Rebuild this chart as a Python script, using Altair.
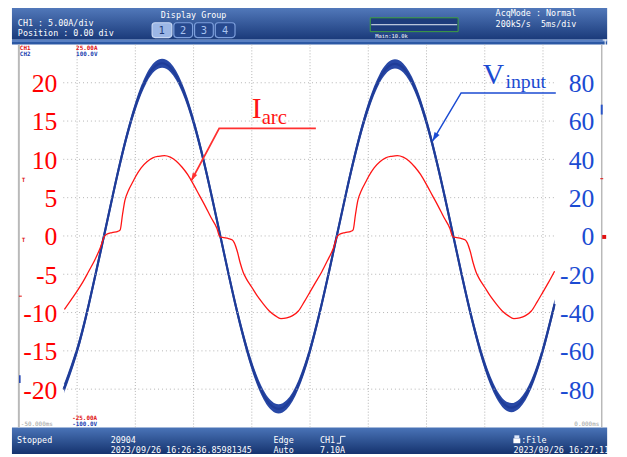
import altair as alt
import pandas as pd

# ---------------- data ----------------
# CH2 : input voltage (V), time in ms (screen spans -50 ms .. 0 ms)
volt_t = [-46.1, -46, -45, -44, -43, -42, -41, -40, -39, -38, -37, -36, -35, -34, -33,
          -32, -31, -30, -29, -28, -27, -26, -25, -24, -23, -22, -21, -20, -19, -18,
          -17, -16, -15, -14, -13, -12, -11, -10, -9, -8, -7, -6, -5, -4]
volt_v = [-78.9, -77.6, -59.7, -35.9, -8.6, 19.4, 45.9, 67.6, 82.8, 89.8, 88.0, 77.6, 59.6, 35.8, 8.4,
          -19.8, -46.0, -67.7, -82.9, -89.9, -88.1, -77.7, -59.6, -35.6, -8.3, 19.7, 45.9, 67.4, 82.5, 89.5,
          87.7, 77.4, 59.4, 35.6, 8.4, -19.7, -45.9, -67.5, -82.4, -89.3, -87.5, -77.3, -59.3, -35.5]

# CH1 : arc current (A)
amp_t = [-46.1, -45.5, -45.0, -44.5, -44.0, -43.5, -43.0, -42.7, -42.5, -42.0, -41.5, -41.3, -41.1, -40.9,
         -40.6, -40.2, -40.0, -39.5, -39.0, -38.5, -38.0, -37.5, -37.0, -36.5, -36.0, -35.5, -35.0, -34.5,
         -34.0, -33.5, -33.0, -32.75, -32.5, -32.0, -31.7, -31.5, -31.25, -31.0, -30.75, -30.5, -30.0, -29.5,
         -29.0, -28.5, -28.0, -27.5, -27.0, -26.5,
         -26.0, -25.5, -25.0, -24.5, -24.0, -23.5, -23.0, -22.7, -22.5, -22.0, -21.5, -21.3, -21.1, -20.9,
         -20.6, -20.2, -20.0, -19.5, -19.0, -18.5, -18.0, -17.5, -17.0, -16.5, -16.0, -15.5, -15.0, -14.5,
         -14.0, -13.5, -13.0, -12.75, -12.5, -12.0, -11.7, -11.5, -11.25, -11.0, -10.75, -10.5, -10.0, -9.5,
         -9.0, -8.5, -8.0, -7.5, -7.0, -6.5, -6.0, -5.5, -5.0, -4.5, -4.0]
amp_i = [-9.6, -8.3, -7.2, -6.0, -4.6, -3.2, -1.5, -0.2, 0.2, 0.45, 0.6, 0.8, 2.8, 4.6,
         5.9, 7.1, 7.7, 8.9, 9.7, 10.2, 10.4, 10.5, 10.3, 9.8, 9.0, 8.0, 6.7, 5.3,
         3.9, 2.4, 1.0, -0.1, -0.2, -0.35, -0.5, -0.9, -2.0, -3.5, -4.7, -5.5, -6.7, -7.9,
         -8.9, -9.8, -10.4, -10.8, -10.7, -10.4,
         -9.8, -8.6, -7.3, -6.0, -4.7, -3.2, -1.6, -0.2, 0.2, 0.45, 0.6, 0.8, 2.8, 4.6,
         5.9, 7.1, 7.7, 8.9, 9.7, 10.2, 10.4, 10.5, 10.3, 9.8, 9.0, 8.0, 6.7, 5.3,
         3.9, 2.4, 1.0, -0.1, -0.2, -0.35, -0.5, -0.9, -2.0, -3.5, -4.7, -5.5, -6.7, -7.9,
         -8.9, -9.8, -10.4, -10.8, -10.7, -10.4, -9.8, -8.6, -7.3, -6.0, -4.6]

amp_ticks = [-20, -15, -10, -5, 0, 5, 10, 15, 20]
volt_ticks = [-80, -60, -40, -20, 0, 20, 40, 60, 80]
time_grid = [-45, -40, -35, -30, -25, -20, -15, -10, -5]

# annotation leaders (tip, elbow, end) in data units
iarc_t = [-35.2, -32.8, -24.5]
iarc_i = [7.2, 14.05, 14.05]
vin_t = [-14.49, -12.03, -3.9]
vin_v = [49.5, 74.7, 74.7]

# ---------------- layout ----------------
W, H = 590, 388          # plot area (10 x 10 divisions)
PX0, PY0 = 19, 42        # page position of plot origin
RED = "#ff1414"
BLUE_TXT = "#1b4bd2"
BLUE_TRACE = "#2848a6"

xs = alt.Scale(domain=[-50, 0], nice=False, zero=False)
ys_a = alt.Scale(domain=[-25, 25], nice=False, zero=False)
ys_v = alt.Scale(domain=[-100, 100], nice=False, zero=False)
one = pd.DataFrame({"k": [0]})


def P(x):
    return x - PX0


def Q(y):
    return y - PY0


def rect(x1, y1, x2, y2, **kw):
    return alt.Chart(one).mark_rect(**kw).encode(
        x=alt.value(P(x1)), x2=alt.value(P(x2)), y=alt.value(Q(y1)), y2=alt.value(Q(y2)))


def rule(x1, y1, x2, y2, **kw):
    return alt.Chart(one).mark_rule(**kw).encode(
        x=alt.value(P(x1)), x2=alt.value(P(x2)), y=alt.value(Q(y1)), y2=alt.value(Q(y2)))


def txt(s, x, y, color="white", size=8.5, font="DejaVu Sans Mono", align="left",
        baseline="alphabetic", weight="normal"):
    return alt.Chart(one).mark_text(text=s, color=color, fontSize=size, font=font, align=align,
                                    baseline=baseline, fontWeight=weight).encode(
        x=alt.value(P(x)), y=alt.value(Q(y)))


def grad(top, bottom):
    return alt.Gradient(gradient="linear",
                        stops=[alt.GradientStop(color=top, offset=0),
                               alt.GradientStop(color=bottom, offset=1)],
                        x1=0, x2=0, y1=0, y2=1)


# ---------------- frame: header / footer ----------------
frame = [
    rect(12, 0, 615, 37, fill=grad("#5a82c4", "#1a3a7a")),
    rect(12, 37, 615, 42, fill="#2c58a4"),
    rule(12, 38.5, 615, 38.5, color="#86a8e2", strokeWidth=1),
    rect(12, 430, 615, 457, fill=grad("#4a74b8", "#15336e")),
    rule(19, 42, 19, 430, color="#b9b9b9", strokeWidth=2),
    rule(609.5, 42, 609.5, 430, color="#b9b9b9", strokeWidth=1.5),
]

header = [
    txt("CH1      : 5.00A/div", 18, 23),
    txt("Position : 0.00 div", 18, 33),
    txt("Display Group", 196, 15, align="center"),
    txt("AcqMode : Normal", 502, 13),
    txt("200kS/s", 502, 24),
    txt("5ms/div", 548, 24),
    txt("Main:10.0k", 380, 35, size=5.5),
    rect(375, 15, 464, 29, fill="#1d3c7c", stroke="#3fa23f", strokeWidth=1),
    rule(376, 22, 463, 22, color="#e8eef8", strokeWidth=1),
    rule(613, 37, 613, 44, color="#ffffff", strokeWidth=1),
    rule(610.5, 37.5, 615.5, 37.5, color="#ffffff", strokeWidth=1),
]
btn_x = [(154, 174), (176, 195), (197, 216), (218, 238)]
for k, (a, b) in enumerate(btn_x):
    sel = k == 0
    header.append(rect(a, 20, b, 35, fill="#9cb7e6" if sel else "#27498e",
                       stroke="#c8d8f4" if sel else "#7d9fdc", strokeWidth=1.2, cornerRadius=3))
    header.append(txt(str(k + 1), (a + b) / 2, 31.5, color="#1d3a78" if sel else "#a9c4f0",
                      size=10, font="DejaVu Sans", align="center"))

footer = [
    txt("Stopped", 17, 446),
    txt("20904", 112, 446),
    txt("2023/09/26 16:26:36.85981345", 112, 456),
    txt("Edge", 277, 446),
    txt("Auto", 277, 456),
    txt("CH1", 324, 446),
    rule(341, 446, 345, 446, color="white", strokeWidth=1),
    rule(345, 446, 345, 439, color="white", strokeWidth=1),
    rule(345, 439, 350, 439, color="white", strokeWidth=1),
    txt("7.10A", 324, 456),
    rect(520, 441, 527, 446, fill="white"),
    rect(521, 438, 526, 441, fill="#dfe8f8"),
    txt(":File", 528, 446),
    txt("2023/09/26 16:27:11", 520, 456),
]

small = [
    txt("CH1", 20, 47.5, color="#e01010", size=6, weight="bold"),
    txt("CH2", 20, 53.5, color="#1c3fb0", size=6, weight="bold"),
    txt("25.00A", 77, 47.5, color="#e01010", size=6, weight="bold"),
    txt("100.0V", 77, 53.5, color="#1c3fb0", size=6, weight="bold"),
    txt("-25.00A", 73, 422.5, color="#e01010", size=6, weight="bold"),
    txt("-100.0V", 73, 428.5, color="#1c3fb0", size=6, weight="bold"),
    txt("-50.000ms", 21, 428.5, color="#9a9a9a", size=6),
    txt("0.000ms", 607, 428.5, color="#9a9a9a", size=6, align="right"),
    txt("T", 22, 181, color="#e01010", size=6, weight="bold"),
    txt("T", 22, 242, color="#e01010", size=6, weight="bold"),
    rule(19, 297, 22, 297, color="#e01010", strokeWidth=1),
    rule(20, 377, 20, 385, color="#1c3fb0", strokeWidth=1.5),
    rule(609.5, 103, 609.5, 113, color="#2a55c8", strokeWidth=2),
    rule(608, 178, 611, 178, color="#e01010", strokeWidth=1),
    rect(610, 235, 614, 239, fill="#e01010"),
]

# ---------------- grid ----------------
hgrid = alt.Chart(pd.DataFrame({"a": amp_ticks})).mark_rule(
    color="#b3b3b3", strokeDash=[1, 3], strokeWidth=1).encode(
    y=alt.Y("a:Q", scale=ys_a, axis=None), x=alt.value(P(64)), x2=alt.value(P(563)))
vgrid = alt.Chart(pd.DataFrame({"t": time_grid})).mark_rule(
    color="#b3b3b3", strokeDash=[1, 2], strokeWidth=1).encode(
    x=alt.X("t:Q", scale=xs, axis=None), y=alt.value(0), y2=alt.value(H))

# tick labels (placed through the scales, inside the screen like the original)
amp_lab = alt.Chart(pd.DataFrame({"a": amp_ticks, "s": [str(v) for v in amp_ticks]})).mark_text(
    align="right", baseline="middle", font="Liberation Serif", fontSize=26, color="#ff0000", dy=1.5).encode(
    y=alt.Y("a:Q", scale=ys_a, axis=None), x=alt.value(P(58)), text="s:N")
volt_lab = alt.Chart(pd.DataFrame({"v": volt_ticks, "s": [str(v) for v in volt_ticks]})).mark_text(
    align="right", baseline="middle", font="Liberation Serif", fontSize=26, color=BLUE_TXT, dy=1.5).encode(
    y=alt.Y("v:Q", scale=ys_v, axis=None), x=alt.value(P(602)), text="s:N")

# ---------------- traces ----------------
df_v = pd.DataFrame({"t": volt_t, "v": volt_v})
df_i = pd.DataFrame({"t": amp_t, "i": amp_i})

blue_band = alt.Chart(df_v).transform_calculate(
    lo="datum.v - 2.4", hi="datum.v + 2.4").mark_area(
    interpolate="natural", color=BLUE_TRACE, opacity=1).encode(
    x=alt.X("t:Q", scale=xs, axis=None),
    y=alt.Y("lo:Q", scale=ys_v, axis=None), y2="hi:Q")
blue_line = alt.Chart(df_v).mark_line(interpolate="natural", color="#1f3c98", strokeWidth=2.2).encode(
    x=alt.X("t:Q", scale=xs, axis=None), y=alt.Y("v:Q", scale=ys_v, axis=None))
vin_lead = alt.Chart(pd.DataFrame({"t": vin_t, "v": vin_v, "o": [0, 1, 2]})).mark_line(
    color=BLUE_TXT, strokeWidth=1.5).encode(
    x=alt.X("t:Q", scale=xs, axis=None), y=alt.Y("v:Q", scale=ys_v, axis=None), order="o:Q")
vin_head = alt.Chart(pd.DataFrame({"t": vin_t[:1], "v": vin_v[:1]})).mark_point(
    shape="M0,0L-0.45,1.4L0.45,1.4Z", filled=True, size=170, angle=210.6,
    color=BLUE_TXT, opacity=1, strokeWidth=0).encode(
    x=alt.X("t:Q", scale=xs, axis=None), y=alt.Y("v:Q", scale=ys_v, axis=None))

red_line = alt.Chart(df_i).mark_line(interpolate="monotone", color=RED, strokeWidth=1.3).encode(
    x=alt.X("t:Q", scale=xs, axis=None), y=alt.Y("i:Q", scale=ys_a, axis=None))
iarc_lead = alt.Chart(pd.DataFrame({"t": iarc_t, "i": iarc_i, "o": [0, 1, 2]})).mark_line(
    color="#ff3030", strokeWidth=1.8).encode(
    x=alt.X("t:Q", scale=xs, axis=None), y=alt.Y("i:Q", scale=ys_a, axis=None), order="o:Q")
iarc_head = alt.Chart(pd.DataFrame({"t": iarc_t[:1], "i": iarc_i[:1]})).mark_point(
    shape="M0,0L-0.45,1.4L0.45,1.4Z", filled=True, size=130, angle=208.2,
    color="#ff3030", opacity=1, strokeWidth=0).encode(
    x=alt.X("t:Q", scale=xs, axis=None), y=alt.Y("i:Q", scale=ys_a, axis=None))

labels = [
    txt("I", 255, 117, color=RED, size=30, font="Liberation Serif"),
    txt("arc", 265, 123, color=RED, size=21, font="Liberation Serif"),
    txt("V", 489, 82, color=BLUE_TXT, size=30, font="Liberation Serif"),
    txt("input", 512, 86, color=BLUE_TXT, size=20, font="Liberation Serif"),
]

blue_group = alt.layer(blue_band, blue_line, vin_lead, vin_head, volt_lab)
red_group = alt.layer(hgrid, red_line, iarc_lead, iarc_head, amp_lab)

chart = alt.layer(
    *frame, vgrid, blue_group, red_group, *labels, *header, *footer, *small
).resolve_scale(y="independent").properties(
    width=W, height=H,
    autosize=alt.AutoSizeParams(type="none"),
    padding={"left": 11, "top": 34, "right": 18, "bottom": 27},
    background="white",
).configure_view(stroke=None)

chart.save("out.html", embed_options={"renderer": "svg", "actions": False})
